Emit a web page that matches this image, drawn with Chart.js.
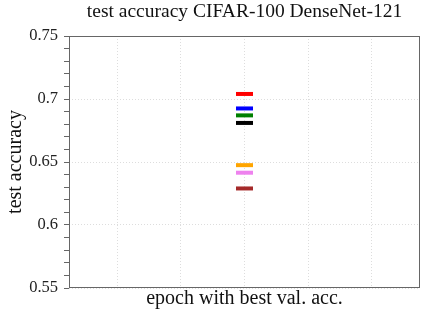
<!DOCTYPE html>
<html>
<head>
<meta charset="utf-8">
<script src="https://cdn.jsdelivr.net/npm/chart.js@4/dist/chart.umd.min.js"></script>
<style>
  html, body { margin: 0; padding: 0; background: #fff; overflow: hidden; }
  #wrap { width: 421px; height: 316px; }
  canvas { display: block; }
</style>
</head>
<body>
<div id="wrap"><canvas id="myChart"></canvas></div>
<script>
// one marker per run, all at the same (unlabelled) epoch position
var seriesNames = ['run 1', 'run 2', 'run 3', 'run 4', 'run 5', 'run 6', 'run 7'];
var seriesColors = ['#ff0000', '#0000ff', '#008000', '#000000', '#ffa500', '#ee82ee', '#a52a2a'];
var bestEpoch = [0, 0, 0, 0, 0, 0, 0];
var testAccuracy = [0.704, 0.6925, 0.687, 0.681, 0.6475, 0.6415, 0.629];
var xGridTicks = [-2, -1, 0, 1, 2];

Chart.defaults.font.family = "'Liberation Serif', 'DejaVu Serif', serif";
Chart.defaults.color = '#222';

var isMajor = function (v) { return Math.round(v * 100) % 5 === 0; };

// box around the plot area
const frame = {
  id: 'frame',
  afterDatasetsDraw(chart) {
    const a = chart.chartArea, c = chart.ctx;
    c.save();
    c.strokeStyle = '#666';
    c.lineWidth = 1;
    c.strokeRect(Math.round(a.left) + 0.5, Math.round(a.top) + 0.5,
                 Math.round(a.right - a.left) - 1, Math.round(a.bottom - a.top) - 1);
    c.restore();
  }
};

const datasets = seriesNames.map(function (name, i) {
  return {
    label: name,
    data: [{ x: bestEpoch[i], y: testAccuracy[i] }],
    pointStyle: 'line',
    pointRadius: 8.5,
    pointBorderWidth: 4,
    borderColor: seriesColors[i],
    backgroundColor: seriesColors[i],
    showLine: false
  };
});

const mychart = new Chart('myChart', {
  type: 'scatter',
  data: { datasets: datasets },
  plugins: [frame],
  options: {
    responsive: true,
    maintainAspectRatio: false,
    animation: false,
    events: [],
    layout: { autoPadding: false, padding: { left: 0, right: 1, top: 0, bottom: 0 } },
    plugins: {
      legend: { display: false },
      tooltip: { enabled: false },
      title: {
        display: true,
        fullSize: false,
        text: 'test accuracy CIFAR-100 DenseNet-121',
        color: '#111',
        font: { size: 19.5, weight: 'normal' },
        padding: { top: 0, bottom: 12.6 }
      }
    },
    scales: {
      x: {
        type: 'linear',
        min: -2.76,
        max: 2.76,
        afterBuildTicks: function (s) { s.ticks = xGridTicks.map(function (v) { return { value: v }; }); },
        afterFit: function (s) { s.height = 28; },
        ticks: { display: false },
        grid: { color: '#dddddd', drawTicks: false },
        border: { display: false, dash: [1, 2] },
        title: {
          display: true,
          text: 'epoch with best val. acc.',
          color: '#111',
          font: { size: 20 },
          padding: { top: 0, bottom: 5 }
        }
      },
      y: {
        min: 0.55,
        max: 0.75,
        afterFit: function (s) { s.width = 69; },
        ticks: {
          stepSize: 0.01,
          autoSkip: false,
          padding: 6,
          color: '#222',
          font: { size: 16.5 },
          callback: function (v) { return isMajor(v) ? String(parseFloat(v.toFixed(2))) : ''; }
        },
        grid: {
          tickLength: 5,
          tickColor: '#666',
          color: function (ctx) { return ctx.tick && isMajor(ctx.tick.value) ? '#dddddd' : 'rgba(0,0,0,0)'; }
        },
        border: { display: false, dash: [1, 2] },
        title: {
          display: true,
          text: 'test accuracy',
          color: '#111',
          font: { size: 20 },
          padding: { top: 4, bottom: 0 }
        }
      }
    }
  }
});
</script>
</body>
</html>
